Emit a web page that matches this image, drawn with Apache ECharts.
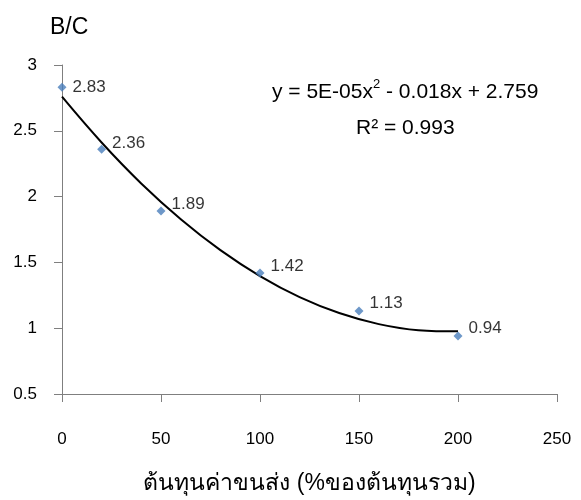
<!DOCTYPE html>
<html><head><meta charset="utf-8">
<script src="https://cdn.jsdelivr.net/npm/echarts@6/dist/echarts.min.js"></script>
<style>html,body{margin:0;padding:0;background:#fff}#c{width:581px;height:500px}</style>
</head><body><div id="c"></div>
<script>
const xValues = [0, 20, 50, 100, 150, 200];
const bcValues = [2.83, 2.36, 1.89, 1.42, 1.13, 0.94];
const trendX = [0, 20, 40, 60, 80, 100, 120, 140, 160, 180, 200];
const trendY = [2.759, 2.411, 2.100, 1.828, 1.593, 1.396, 1.236, 1.115, 1.031, 0.985, 0.976];
const xTicks = [0, 50, 100, 150, 200, 250];
const yTicks = [0.5, 1, 1.5, 2, 2.5, 3];
const yTitle = 'B/C';
const xTitle = 'ต้นทุนค่าขนส่ง (%ของต้นทุนรวม)';

const chart = echarts.init(document.getElementById('c'));
const font = '"Liberation Sans", Arial, sans-serif';
const labelOffsets = [[0, 0], [0, -6], [0, -7], [0, -7], [0, -8], [0, -8]];
chart.setOption({
  animation: false,
  backgroundColor: '#fff',
  textStyle: { fontFamily: font },
  title: { text: yTitle, left: 45, top: 11, textStyle: { fontFamily: font, fontSize: 23, fontWeight: 'normal', color: '#000' } },
  grid: { left: 62, right: 24, top: 65, bottom: 104, containLabel: false },
  xAxis: {
    type: 'value', min: xTicks[0], max: xTicks[xTicks.length - 1], interval: 50,
    name: xTitle, nameLocation: 'middle', nameGap: 78,
    nameTextStyle: { fontSize: 23, color: '#000', fontFamily: font },
    axisLine: { show: true, lineStyle: { color: '#7f7f7f', width: 1 } },
    axisTick: { show: true, length: 8, lineStyle: { color: '#7f7f7f' } },
    axisLabel: { color: '#000', fontSize: 17, margin: 37, fontFamily: font },
    splitLine: { show: false }
  },
  yAxis: {
    type: 'value', min: yTicks[0], max: yTicks[yTicks.length - 1], interval: 0.5,
    axisLine: { show: true, lineStyle: { color: '#7f7f7f', width: 1 } },
    axisTick: { show: true, length: 8, lineStyle: { color: '#7f7f7f' } },
    axisLabel: { color: '#000', fontSize: 17, margin: 25, fontFamily: font },
    splitLine: { show: false }
  },
  graphic: [
    { type: 'text', left: 272, top: 78, style: {
      text: '{a|y = 5E-05x}{s|2}{a| - 0.018x + 2.759}',
      rich: { a: { fontSize: 21, fontFamily: font, fill: '#000', verticalAlign: 'bottom' },
              s: { fontSize: 13, fontFamily: font, fill: '#000', verticalAlign: 'top', padding: [0, 0, 12, 0] } }
    } },
    { type: 'text', left: 356, top: 118, style: { text: 'R² = 0.993', fontSize: 21, fontFamily: font, fill: '#000' } }
  ],
  series: [
    {
      type: 'line', data: trendX.map((x, i) => [x, trendY[i]]), smooth: 0.4,
      showSymbol: false, lineStyle: { color: '#000', width: 2 }, z: 2
    },
    {
      type: 'scatter',
      data: xValues.map((x, i) => ({ value: [x, bcValues[i]], label: { offset: labelOffsets[i] } })),
      symbol: 'diamond', symbolSize: 9, itemStyle: { color: '#4a7ebb' }, z: 3,
      label: { show: true, position: 'right', distance: 6, color: '#000', fontSize: 17, fontFamily: font,
        formatter: p => p.value[1].toFixed(2) }
    }
  ]
});
</script></body></html>
